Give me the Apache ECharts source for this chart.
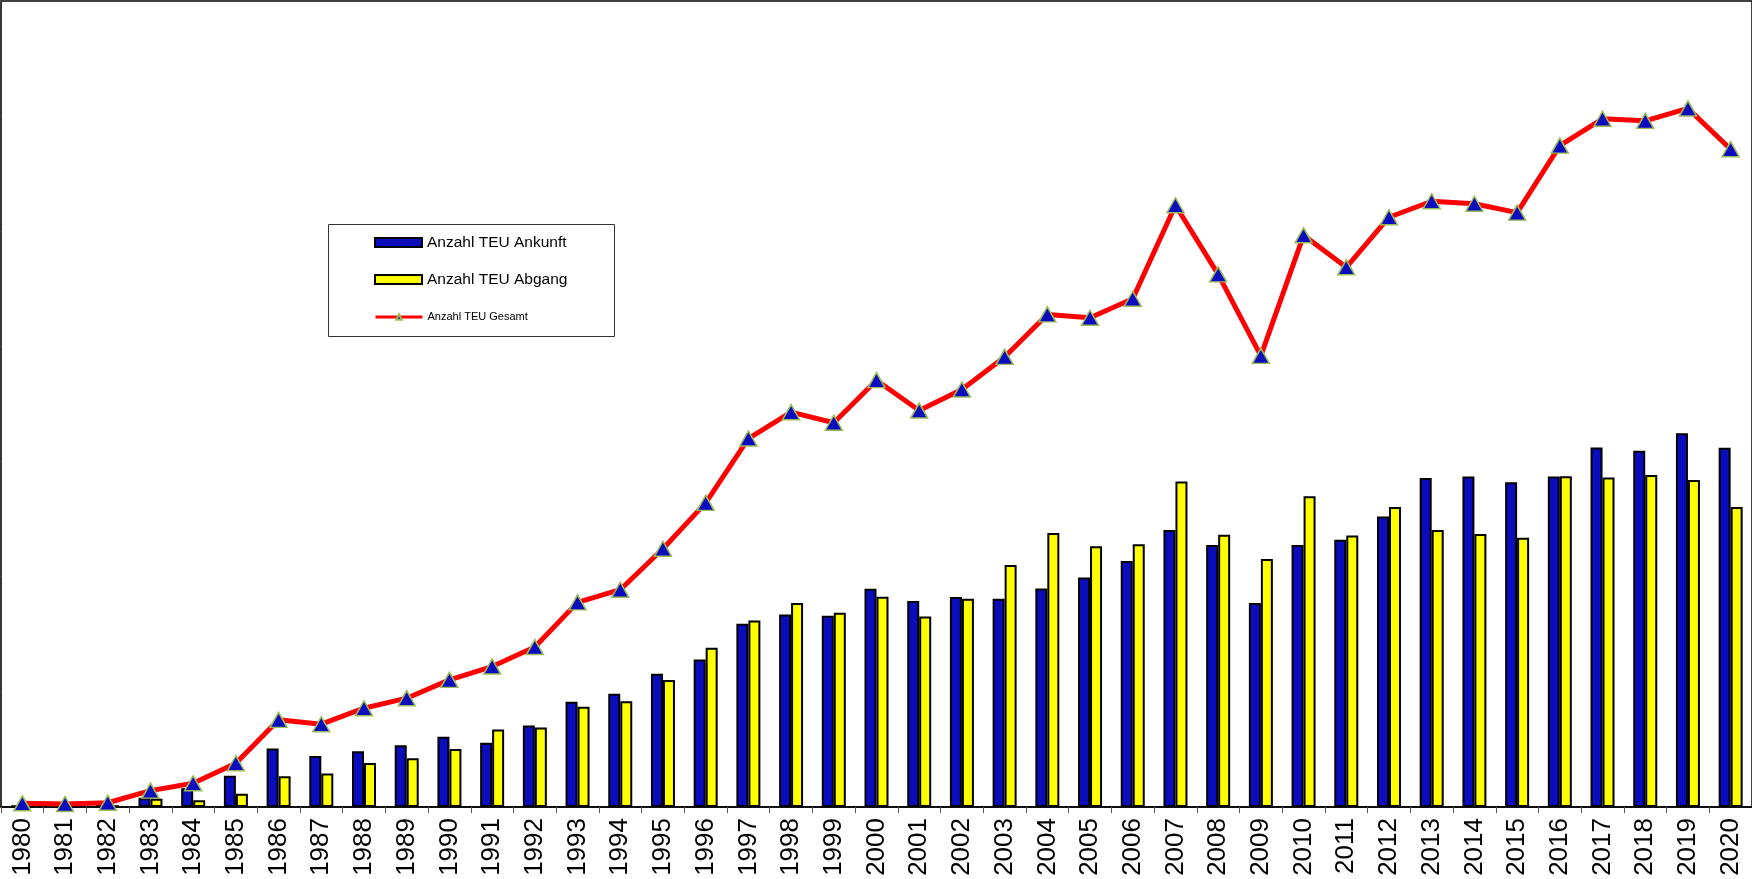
<!DOCTYPE html>
<html>
<head>
<meta charset="utf-8">
<title>Anzahl TEU</title>
<script src="https://cdn.jsdelivr.net/npm/echarts@6/dist/echarts.min.js"></script>
<style>
  html, body { margin: 0; padding: 0; background: #fff; }
  #chart { width: 1752px; height: 879px; }
</style>
</head>
<body>
<div id="chart"></div>
<script>
// Werte in 1000 TEU
var years = ['1980', '1981', '1982', '1983', '1984', '1985', '1986', '1987', '1988', '1989',
  '1990', '1991', '1992', '1993', '1994', '1995', '1996', '1997', '1998', '1999',
  '2000', '2001', '2002', '2003', '2004', '2005', '2006', '2007', '2008', '2009',
  '2010', '2011', '2012', '2013', '2014', '2015', '2016', '2017', '2018', '2019', '2020']

var ankunft = [1.3, 1.3, 2.6, 8.1, 16.3, 27.2, 50.7, 44.3, 48.4, 53.7,
  61.1, 55.7, 70.7, 91.3, 98.3, 115.7, 128.1, 159.1, 167.2, 166.1,
  189.6, 178.9, 182.4, 180.9, 189.8, 199.4, 213.7, 240.6, 227.6, 177.1,
  227.6, 232.2, 252.2, 285.8, 287.0, 282.0, 287.0, 312.2, 309.3, 324.6, 311.9]

var abgang = [0.4, 0.4, 1.3, 7.2, 5.8, 11.6, 26.7, 29.0, 38.3, 42.3,
  50.4, 67.2, 69.0, 87.0, 91.9, 110.2, 138.3, 162.0, 177.1, 168.7,
  182.6, 165.5, 180.9, 210.2, 238.0, 226.4, 228.1, 282.6, 236.5, 215.4,
  269.8, 235.7, 260.6, 240.6, 237.1, 233.9, 287.2, 286.1, 288.4, 284.1, 260.6]

var gesamt = [3.2, 2.6, 3.7, 14.2, 20.6, 38.0, 75.7, 71.9, 85.8, 94.5,
  110.4, 122.0, 138.9, 177.7, 188.7, 224.3, 264.1, 320.0, 342.9, 333.7,
  370.7, 344.3, 362.6, 390.9, 427.8, 424.9, 441.4, 522.6, 462.6, 391.8,
  496.5, 468.7, 512.2, 526.1, 523.9, 516.2, 574.4, 597.7, 595.9, 606.7, 571.3]

var font = "'Liberation Sans', Arial, sans-serif"

var chart = echarts.init(document.getElementById('chart'))

chart.setOption({
  animation: false,
  backgroundColor: '#fff',
  grid: {
    left: 1,
    right: -4,
    top: 1,
    bottom: 72,
    show: true,
    borderColor: '#000',
    borderWidth: 1.5
  },
  legend: [
    {
      left: 374,
      top: 234,
      padding: 0,
      icon: 'rect',
      itemWidth: 47,
      itemHeight: 9,
      textStyle: { fontFamily: font, fontSize: 15.5, lineHeight: 17, color: '#000' },
      data: ['Anzahl TEU Ankunft']
    },
    {
      left: 374,
      top: 271,
      padding: 0,
      icon: 'rect',
      itemWidth: 47,
      itemHeight: 9,
      textStyle: { fontFamily: font, fontSize: 15.5, lineHeight: 17, color: '#000' },
      data: ['Anzahl TEU Abgang']
    },
    {
      left: 374,
      top: 311,
      padding: 0,
      itemWidth: 47,
      itemHeight: 7,
      lineStyle: { width: 3 },
      textStyle: { fontFamily: font, fontSize: 11, lineHeight: 12, color: '#000' },
      data: ['Anzahl TEU Gesamt']
    }
  ],
  graphic: [
    {
      type: 'rect',
      left: 326,
      top: 222,
      shape: { width: 286, height: 112 },
      style: { fill: 'none', stroke: '#333', lineWidth: 1 },
      z: 10
    }
  ],
  xAxis: {
    type: 'category',
    data: years,
    boundaryGap: true,
    axisLine: { lineStyle: { color: '#000', width: 1.5 } },
    axisTick: { show: true, length: 6, lineStyle: { color: '#555', width: 1 } },
    axisLabel: {
      rotate: 90,
      interval: 0,
      margin: 11,
      fontFamily: font,
      fontSize: 26,
      color: '#000'
    }
  },
  yAxis: {
    type: 'value',
    min: 0,
    max: 700,
    interval: 100,
    axisLine: { show: true, lineStyle: { color: '#333', width: 1.5 } },
    axisTick: { show: true, length: 3, lineStyle: { color: '#555' } },
    axisLabel: { show: false },
    splitLine: { show: false }
  },
  series: [
    {
      name: 'Anzahl TEU Ankunft',
      type: 'bar',
      data: ankunft,
      barWidth: 12,
      barGap: '0%',
      itemStyle: { color: '#0c0cbf', borderColor: '#000', borderWidth: 2 }
    },
    {
      name: 'Anzahl TEU Abgang',
      type: 'bar',
      data: abgang,
      barWidth: 12,
      barGap: '0%',
      itemStyle: { color: '#ffff00', borderColor: '#000', borderWidth: 2 }
    },
    {
      name: 'Anzahl TEU Gesamt',
      type: 'line',
      data: gesamt,
      symbol: 'triangle',
      symbolSize: [17, 15],
      showAllSymbol: true,
      lineStyle: { color: '#ff0000', width: 5 },
      itemStyle: { color: '#0c0cbf', borderColor: '#9bbb59', borderWidth: 1.5 },
      z: 5
    }
  ]
})
</script>
</body>
</html>
